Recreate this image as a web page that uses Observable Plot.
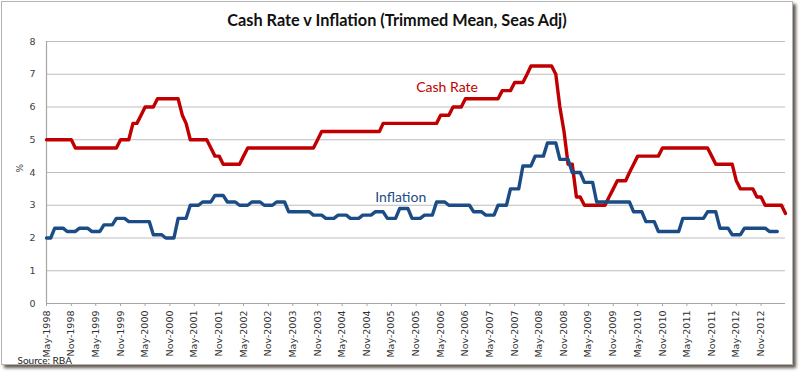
<!DOCTYPE html>
<html>
<head>
<meta charset="utf-8">
<script src="https://cdn.jsdelivr.net/npm/d3@7"></script>
<script src="https://cdn.jsdelivr.net/npm/@observablehq/plot@0.6"></script>
<style>
  html, body { margin: 0; padding: 0; background: #ffffff; }
  #wrap { position: relative; width: 800px; height: 372px; overflow: hidden; }
  #frame { position: absolute; left: 1px; top: 1px; width: 790px; height: 362px;
           border: 1px solid #b4b4b4; box-shadow: 3px 3px 3px rgba(70,60,50,0.85);
           pointer-events: none; }
  #chart { position: absolute; left: 0; top: 0; }
</style>
</head>
<body>
<div id="wrap"><div id="frame"></div><div id="chart"></div></div>
<script>
// Monthly series, first month = May 1998
const startYear = 1998, startMonth = 4; // May (0-based)

// RBA cash rate target, monthly, May-1998 .. May-2013
const cashRate = [
  // 1998 May-Dec
  5.00, 5.00, 5.00, 5.00, 5.00, 5.00, 5.00, 4.75,
  // 1999
  4.75, 4.75, 4.75, 4.75, 4.75, 4.75, 4.75, 4.75, 4.75, 4.75, 5.00, 5.00,
  // 2000
  5.00, 5.50, 5.50, 5.75, 6.00, 6.00, 6.00, 6.25, 6.25, 6.25, 6.25, 6.25,
  // 2001
  6.25, 5.75, 5.50, 5.00, 5.00, 5.00, 5.00, 5.00, 4.75, 4.50, 4.50, 4.25,
  // 2002
  4.25, 4.25, 4.25, 4.25, 4.50, 4.75, 4.75, 4.75, 4.75, 4.75, 4.75, 4.75,
  // 2003
  4.75, 4.75, 4.75, 4.75, 4.75, 4.75, 4.75, 4.75, 4.75, 4.75, 5.00, 5.25,
  // 2004
  5.25, 5.25, 5.25, 5.25, 5.25, 5.25, 5.25, 5.25, 5.25, 5.25, 5.25, 5.25,
  // 2005
  5.25, 5.25, 5.50, 5.50, 5.50, 5.50, 5.50, 5.50, 5.50, 5.50, 5.50, 5.50,
  // 2006
  5.50, 5.50, 5.50, 5.50, 5.75, 5.75, 5.75, 6.00, 6.00, 6.00, 6.25, 6.25,
  // 2007
  6.25, 6.25, 6.25, 6.25, 6.25, 6.25, 6.25, 6.50, 6.50, 6.50, 6.75, 6.75,
  // 2008
  6.75, 7.00, 7.25, 7.25, 7.25, 7.25, 7.25, 7.25, 7.00, 6.00, 5.25, 4.25,
  // 2009
  4.25, 3.25, 3.25, 3.00, 3.00, 3.00, 3.00, 3.00, 3.00, 3.25, 3.50, 3.75,
  // 2010
  3.75, 3.75, 4.00, 4.25, 4.50, 4.50, 4.50, 4.50, 4.50, 4.50, 4.75, 4.75,
  // 2011
  4.75, 4.75, 4.75, 4.75, 4.75, 4.75, 4.75, 4.75, 4.75, 4.75, 4.50, 4.25,
  // 2012
  4.25, 4.25, 4.25, 4.25, 3.75, 3.50, 3.50, 3.50, 3.50, 3.25, 3.25, 3.00,
  // 2013 Jan-May
  3.00, 3.00, 3.00, 3.00, 2.75
];

// Trimmed mean inflation (year-ended, %), monthly steps, May-1998 .. Mar-2013
const inflation = [
  // 1998 May-Dec
  2.0, 2.0, 2.3, 2.3, 2.3, 2.2, 2.2, 2.2,
  // 1999
  2.3, 2.3, 2.3, 2.2, 2.2, 2.2, 2.4, 2.4, 2.4, 2.6, 2.6, 2.6,
  // 2000
  2.5, 2.5, 2.5, 2.5, 2.5, 2.5, 2.1, 2.1, 2.1, 2.0, 2.0, 2.0,
  // 2001
  2.6, 2.6, 2.6, 3.0, 3.0, 3.0, 3.1, 3.1, 3.1, 3.3, 3.3, 3.3,
  // 2002
  3.1, 3.1, 3.1, 3.0, 3.0, 3.0, 3.1, 3.1, 3.1, 3.0, 3.0, 3.0,
  // 2003
  3.1, 3.1, 3.1, 2.8, 2.8, 2.8, 2.8, 2.8, 2.8, 2.7, 2.7, 2.7,
  // 2004
  2.6, 2.6, 2.6, 2.7, 2.7, 2.7, 2.6, 2.6, 2.6, 2.7, 2.7, 2.7,
  // 2005
  2.8, 2.8, 2.8, 2.6, 2.6, 2.6, 2.9, 2.9, 2.9, 2.6, 2.6, 2.6,
  // 2006
  2.7, 2.7, 2.7, 3.1, 3.1, 3.1, 3.0, 3.0, 3.0, 3.0, 3.0, 3.0,
  // 2007
  2.8, 2.8, 2.8, 2.7, 2.7, 2.7, 3.0, 3.0, 3.0, 3.5, 3.5, 3.5,
  // 2008
  4.2, 4.2, 4.2, 4.5, 4.5, 4.5, 4.9, 4.9, 4.9, 4.4, 4.4, 4.4,
  // 2009
  4.0, 4.0, 4.0, 3.7, 3.7, 3.7, 3.1, 3.1, 3.1, 3.1, 3.1, 3.1,
  // 2010
  3.1, 3.1, 3.1, 2.8, 2.8, 2.8, 2.5, 2.5, 2.5, 2.2, 2.2, 2.2,
  // 2011
  2.2, 2.2, 2.2, 2.6, 2.6, 2.6, 2.6, 2.6, 2.6, 2.8, 2.8, 2.8,
  // 2012
  2.3, 2.3, 2.3, 2.1, 2.1, 2.1, 2.3, 2.3, 2.3, 2.3, 2.3, 2.3,
  // 2013 Jan-Mar
  2.2, 2.2, 2.2
];

const yTicks = [0, 1, 2, 3, 4, 5, 6, 7, 8];
const tickEveryMonths = 6;
const lastTickLabel = "Nov-2012";
const titleText = "Cash Rate v Inflation (Trimmed Mean, Seas Adj)";
const sourceText = "Source: RBA";
const seriesNames = ["Cash Rate", "Inflation"];
const seriesColors = ["#C00000", "#1C4C85"];
// label anchor positions (month index, value)
const labelPos = [[90, 6.6], [80, 3.25]];

const monthDate = i => new Date(Date.UTC(startYear, startMonth + i, 1));
const fmt = d3.utcFormat("%b-%Y");

const cashData = cashRate.map((v, i) => ({date: monthDate(i), value: v}));
const inflData = inflation.map((v, i) => ({date: monthDate(i), value: v}));
const tickDates = [];
for (let i = 0; ; i += tickEveryMonths) {
  const d = monthDate(i);
  tickDates.push(d);
  if (fmt(d) === lastTickLabel) break;
}
const labels = seriesNames.map((n, k) => ({name: n, date: monthDate(labelPos[k][0]), value: labelPos[k][1], color: seriesColors[k]}));

const chart = Plot.plot({
  width: 800,
  height: 372,
  marginLeft: 46,
  marginRight: 15,
  marginTop: 41,
  marginBottom: 69,
  style: {fontFamily: "DejaVu Sans", fontSize: "9.5px", color: "#404040", background: "transparent"},
  x: {type: "utc", domain: [monthDate(0), monthDate(cashRate.length - 1)]},
  y: {domain: [0, 8]},
  marks: [
    Plot.gridY(yTicks.filter(t => t > 0), {stroke: "#bdbdbd", strokeOpacity: 1, strokeWidth: 1.2}),
    Plot.ruleY([0], {stroke: "#a6a6a6", strokeWidth: 1.2}),
    Plot.ruleX([monthDate(0)], {stroke: "#a6a6a6", strokeWidth: 1.2}),
    Plot.axisY({ticks: yTicks, tickSize: 0, tickPadding: 11, label: null, fill: "#404040"}),
    Plot.axisX({ticks: tickDates, tickFormat: fmt, tickRotate: -90, tickSize: 3, tickPadding: 4,
                label: null, stroke: "#a6a6a6", fill: "#303030"}),
    Plot.line(cashData, {x: "date", y: "value", stroke: seriesColors[0], strokeWidth: 3.4, strokeLinejoin: "round"}),
    Plot.line(inflData, {x: "date", y: "value", stroke: seriesColors[1], strokeWidth: 3.4, strokeLinejoin: "round"}),
    Plot.text(labels, {x: "date", y: "value", text: "name", fill: "color", textAnchor: "start",
                       fontFamily: "Lato", fontSize: 14}),
    Plot.text(["%"], {frameAnchor: "left", dx: -26, rotate: -90, fontSize: 9, fill: "#404040"}),
    Plot.text([titleText], {frameAnchor: "top", lineAnchor: "middle", dx: -19, dy: -21, fontFamily: "Lato", fontWeight: "bold", fontSize: 16.3, fill: "#111"}),
    Plot.text([sourceText], {frameAnchor: "bottom-left", lineAnchor: "middle", dx: -29, dy: 57, textAnchor: "start", fontFamily: "Lato", fontSize: 10, fill: "#222"})
  ]
});
document.getElementById("chart").appendChild(chart);
</script>
</body>
</html>
